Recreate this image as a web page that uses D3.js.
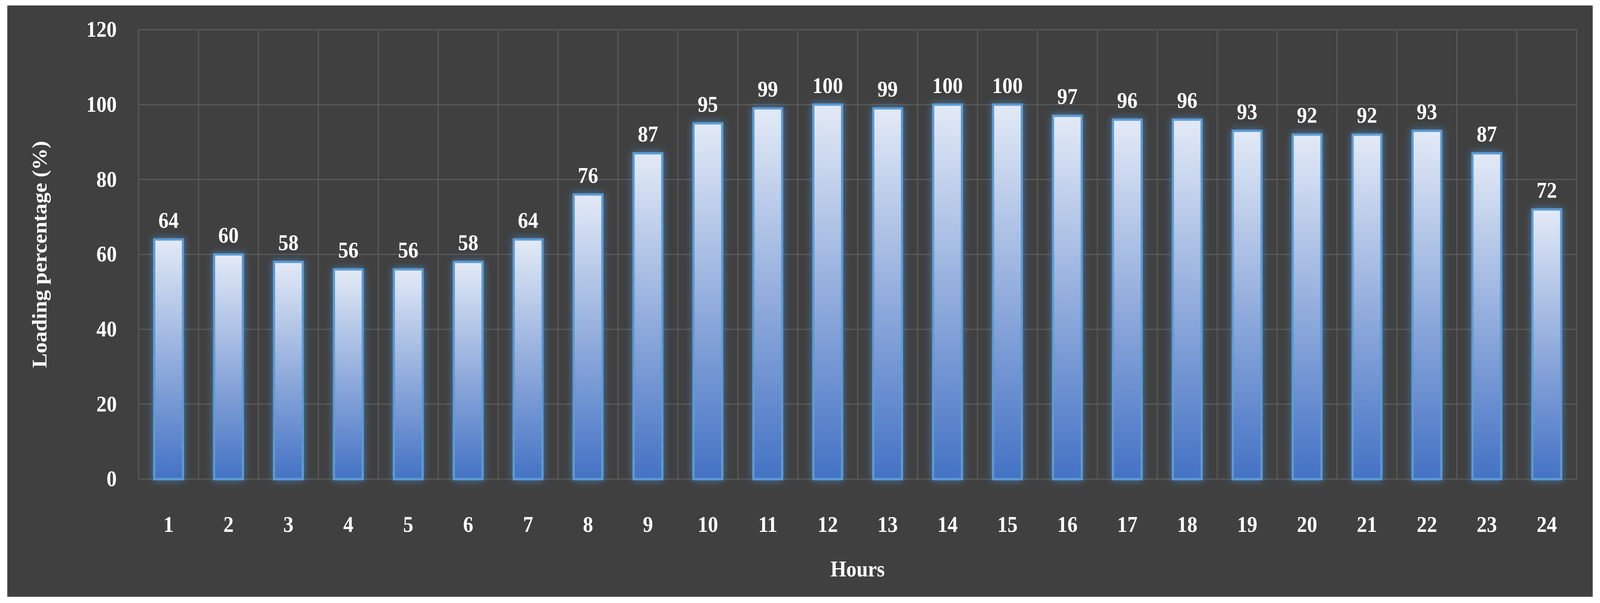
<!DOCTYPE html>
<html><head><meta charset="utf-8">
<script src="https://cdn.jsdelivr.net/npm/d3@7"></script>
<style>html,body{margin:0;padding:0;overflow:hidden;background:#fff}svg{display:block;width:100vw;height:100vh}</style>
</head><body><svg id="chart"></svg>
<script>
const hours = d3.range(1, 25).map(String);
const loading = [64,60,58,56,56,58,64,76,87,95,99,100,99,100,100,97,96,96,93,92,92,93,87,72];
const yTicks = [0,20,40,60,80,100,120];

const W = 4398, H = 1543;
const m = {left: 381, right: 64, top: 76, bottom: 317};
const svg = d3.select("#chart").attr("viewBox", `0 0 ${W} ${H}`).attr("preserveAspectRatio", "none");
const font = "'Liberation Serif', 'DejaVu Serif', serif";

svg.append("rect").attr("x", 20).attr("y", 14).attr("width", W - 40).attr("height", H - 30).attr("fill", "#404040");

const defs = svg.append("defs");
const grad = defs.append("linearGradient").attr("id", "bg").attr("x1", 0).attr("y1", 0).attr("x2", 0).attr("y2", 1);
grad.append("stop").attr("offset", 0).attr("stop-color", "#e3eaf6");
grad.append("stop").attr("offset", 1).attr("stop-color", "#4472c4");
const glow = defs.append("filter").attr("id", "glow").attr("x", "-50%").attr("y", "-10%").attr("width", "200%").attr("height", "120%");
glow.append("feGaussianBlur").attr("in", "SourceAlpha").attr("stdDeviation", 10).attr("result", "b");
glow.append("feFlood").attr("flood-color", "#4a90d0").attr("flood-opacity", 0.7);
glow.append("feComposite").attr("in2", "b").attr("operator", "in").attr("result", "g");
const mg = glow.append("feMerge");
mg.append("feMergeNode").attr("in", "g");
mg.append("feMergeNode").attr("in", "SourceGraphic");

const x = d3.scaleBand().domain(hours).range([m.left, W - m.right]).paddingInner(0.52).paddingOuter(0.26);
const xb = d3.scaleBand().domain(hours).range([m.left, W - m.right]);
const y = d3.scaleLinear().domain([0, 120]).range([H - m.bottom, m.top]);

const grid = svg.append("g").attr("stroke", "#595959").attr("stroke-width", 3);
yTicks.forEach(t => grid.append("line").attr("x1", m.left).attr("x2", W - m.right).attr("y1", y(t)).attr("y2", y(t)));
hours.forEach(h => grid.append("line").attr("x1", xb(h)).attr("x2", xb(h)).attr("y1", y(120)).attr("y2", y(0)));
grid.append("line").attr("x1", W - m.right).attr("x2", W - m.right).attr("y1", y(120)).attr("y2", y(0));

svg.append("g").selectAll("rect").data(loading).join("rect")
  .attr("x", (d, i) => x(hours[i])).attr("width", x.bandwidth())
  .attr("y", d => y(d)).attr("height", d => y(0) - y(d))
  .attr("fill", "url(#bg)").attr("stroke", "#5b9bd5").attr("stroke-width", 6)
  .attr("filter", "url(#glow)");

svg.append("g").selectAll("text").data(loading).join("text")
  .attr("x", (d, i) => x(hours[i]) + x.bandwidth() / 2).attr("y", d => y(d) - 30)
  .attr("text-anchor", "middle").attr("fill", "#fff").attr("font-family", font)
  .attr("font-weight", "bold").attr("font-size", 56).text(d => d);

const yAxis = svg.append("g").attr("transform", `translate(${m.left - 60},0)`)
  .call(d3.axisLeft(y).tickValues(yTicks).tickSize(0).tickPadding(0));
yAxis.select(".domain").remove();
yAxis.selectAll("text").attr("fill", "#fff").attr("font-family", font).attr("font-weight", "bold").attr("font-size", 56);

const xAxis = svg.append("g").attr("transform", `translate(0,${y(0) + 95})`)
  .call(d3.axisBottom(xb).tickSize(0).tickPadding(0));
xAxis.select(".domain").remove();
xAxis.selectAll("text").attr("fill", "#fff").attr("font-family", font).attr("font-weight", "bold").attr("font-size", 56);

svg.append("text").attr("x", (m.left + W - m.right) / 2).attr("y", 1475).attr("text-anchor", "middle")
  .attr("fill", "#fff").attr("font-family", font).attr("font-weight", "bold").attr("font-size", 56).text("Hours");
svg.append("text").attr("transform", `translate(128,${y(60)}) rotate(-90)`).attr("text-anchor", "middle")
  .attr("fill", "#fff").attr("font-family", font).attr("font-weight", "bold").attr("font-size", 56).text("Loading percentage (%)");
</script></body></html>
